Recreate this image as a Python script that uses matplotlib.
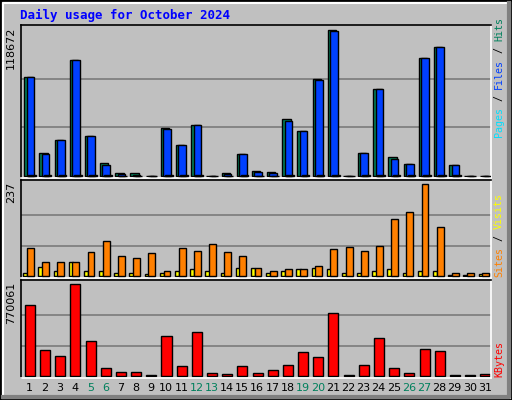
import numpy as np
import matplotlib.pyplot as plt
from matplotlib.patches import Rectangle

days = list(range(1, 32))
weekend = [5, 6, 12, 13, 19, 20, 26, 27]

hits = [80500, 19100, 29600, 94200, 32800, 10200, 2200, 2200, 300, 38700,
        24800, 41700, 300, 2200, 17500, 3800, 3000, 46000, 36900, 78900,
        118672, 300, 19100, 70800, 15100, 9400, 95800, 104700, 8600, 300, 300]
files = [80500, 18200, 29600, 94200, 32800, 9300, 1500, 1000, 300, 37800,
         24800, 41700, 300, 1500, 17500, 2900, 2200, 45000, 36900, 78000,
         117800, 300, 19100, 70800, 14200, 9400, 95800, 104700, 8600, 300, 300]
pages = [900, 800, 700, 900, 800, 600, 300, 300, 200, 800,
         700, 800, 200, 300, 600, 300, 300, 800, 700, 900,
         1000, 200, 600, 900, 600, 500, 900, 900, 500, 200, 200]
sites = [10, 23, 13, 36, 13, 13, 10, 10, 5, 10, 13, 18, 13, 8, 21, 21,
         8, 15, 18, 21, 18, 10, 8, 13, 18, 8, 13, 15, 3, 3, 5]
visits = [72, 36, 36, 36, 62, 90, 52, 46, 59, 13, 72, 64, 82, 62, 52, 21,
          13, 18, 18, 26, 70, 75, 64, 77, 147, 165, 237, 126, 10, 10, 8]
kbytes = [601000, 222000, 171000, 770061, 298000, 70000, 37000, 37000, 11000,
          340000, 87000, 374000, 28000, 20000, 87000, 28000, 53000, 96000,
          205000, 163000, 534000, 11000, 96000, 323000, 70000, 28000, 230000,
          214000, 11000, 11000, 20000]

BG = "#C0C0C0"
W, H = 512, 400
fig = plt.figure(figsize=(W / 100, H / 100), dpi=100, facecolor=BG)
mono = "DejaVu Sans Mono"

# bevelled frame
fig.patches.append(Rectangle((0, 0), 1, 1, transform=fig.transFigure,
                             fill=False, edgecolor="black", lw=2))
fig.add_artist(plt.Line2D([3 / W, 3 / W, 1 - 3 / W], [3 / H, 1 - 3 / H, 1 - 3 / H],
                          transform=fig.transFigure, color="white", lw=1.5))
fig.add_artist(plt.Line2D([3 / W, 1 - 3 / W, 1 - 3 / W], [3 / H, 3 / H, 1 - 3 / H],
                          transform=fig.transFigure, color="#808080", lw=3))


def panel(top, bottom):
    ax = fig.add_axes([20.5 / W, 1 - bottom / H, 470.5 / W, (bottom - top) / H])
    ax.set_facecolor(BG)
    ax.set_xlim(0.5, 31.5)
    ax.set_xticks([])
    ax.set_yticks([])
    for s in ax.spines.values():
        s.set_color("white")
        s.set_linewidth(1.2)
    ax.spines["left"].set_color("black")
    ax.spines["top"].set_color("black")
    return ax


x = np.array(days) + 0.12

# top panel: hits / files / pages
ax1 = panel(24.7, 177.5)
m1 = max(hits)
ax1.set_ylim(-m1 * 0.01, m1 * 1.035)
for g in (m1 / 3, 2 * m1 / 3):
    ax1.axhline(g, color="#808080", lw=1.3, zorder=0)
ax1.bar(x - 0.1, hits, width=0.55, color="#00805C", edgecolor="black", lw=1, zorder=2)
ax1.bar(x + 0.03, files, width=0.5, color="#0040FF", edgecolor="black", lw=1, zorder=3)
ax1.bar(x + 0.15, pages, width=0.5, color="#00E0FF", edgecolor="black", lw=1, zorder=4)

# middle panel: sites / visits
ax2 = panel(180.3, 277.8)
m2 = max(visits)
ax2.set_ylim(-m2 * 0.015, m2 * 1.04)
for g in (m2 / 3, 2 * m2 / 3):
    ax2.axhline(g, color="#808080", lw=1.3, zorder=0)
ax2.bar(x - 0.3, sites, width=0.28, color="#FFFF00", edgecolor="black", lw=1, zorder=2)
ax2.bar(x + 0.03, visits, width=0.45, color="#FF8000", edgecolor="black", lw=1, zorder=3)

# bottom panel: kbytes
ax3 = panel(280.3, 377.8)
m3 = max(kbytes)
ax3.set_ylim(-m3 * 0.015, m3 * 1.045)
for g in (m3 / 3, 2 * m3 / 3):
    ax3.axhline(g, color="#808080", lw=1.3, zorder=0)
ax3.bar(x, kbytes, width=0.66, color="#FF0000", edgecolor="black", lw=1, zorder=2)

# day labels
for d in days:
    xf = (20.5 + (d - 0.4) * 470.5 / 31) / W
    fig.text(xf, 1 - 388 / H, str(d), ha="center", va="center", fontsize=8,
             family="DejaVu Sans", color="#00805C" if d in weekend else "black")

# max labels
for ypx, val in [(27, m1), (182, m2), (282, m3)]:
    fig.text(11 / W, 1 - ypx / H, str(val), rotation=90, ha="center", va="top",
             fontsize=8, family="DejaVu Sans")

# right legends (stacked bottom-up)
LFS = 7.2
step = 0.602 * LFS * 100 / 72


def right_legend(parts, ybottom):
    y = ybottom
    for txt, col in parts:
        fig.text(499 / W, 1 - y / H, txt, rotation=90, ha="center", va="bottom",
                 fontsize=LFS, family=mono, color=col)
        y -= len(txt) * step


right_legend([("Pages", "#00E0FF"), (" / ", "black"), ("Files", "#0040FF"),
              (" / ", "black"), ("Hits", "#00805C")], 137)
right_legend([("Sites", "#FF8000"), (" / ", "black"), ("Visits", "#FFFF00")], 277)
right_legend([("KBytes", "#FF0000")], 377)

fig.text(20 / W, 1 - 15 / H, "Daily usage for October 2024", ha="left", va="center",
         fontsize=9, family=mono, weight="bold", color="#0000FF")

fig.savefig("out.png", dpi=100, facecolor=BG)
